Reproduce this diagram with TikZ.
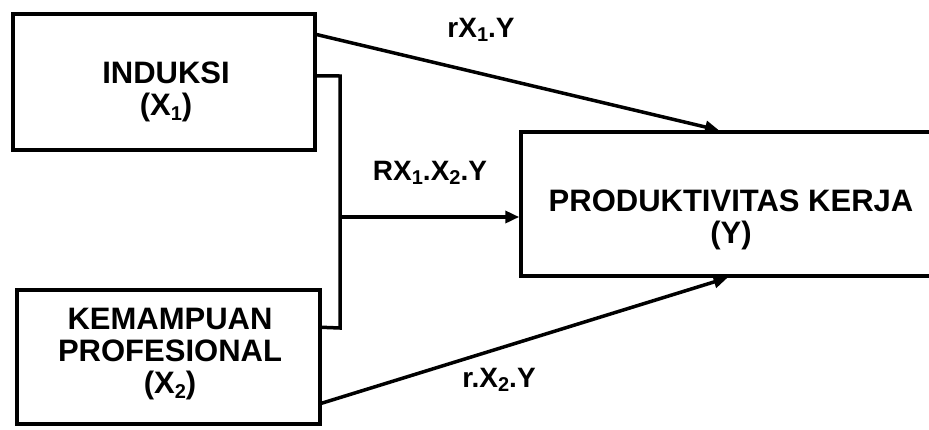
\documentclass[tikz,border=0pt]{standalone}
\usepackage{fontspec}
\setmainfont{Liberation Sans}
\usetikzlibrary{arrows.meta,calc}
\newcommand{\sbx}[1]{\raisebox{-0.28ex}{\fontsize{20}{20}\selectfont #1}}
\tikzset{
  boxnode/.style={draw, line width=3.5pt, rectangle, inner sep=0pt},
  boxtext/.style={font=\fontsize{31}{32}\selectfont\bfseries, align=center, inner sep=0pt},
  pathlabel/.style={font=\fontsize{28}{30}\selectfont\bfseries, inner sep=0pt},
  link/.style={line width=3.5pt},
  arrowlink/.style={line width=3.5pt, -{Triangle[length=14pt,width=12pt]}},
}
\begin{document}
\begin{tikzpicture}[x=1pt,y=-1pt]
\useasboundingbox (0,0) rectangle (929,429);
\clip (0,0) rectangle (929,429);

% boxes
\node[boxnode, minimum width=302pt, minimum height=136pt] (x1) at (164,82) {};
\node[boxnode, minimum width=303pt, minimum height=134pt] (x2) at (168.5,357) {};
\node[boxnode, minimum width=470pt, minimum height=144pt] (y) at (756,204) {};

% box texts
\node[boxtext] (x1t) at (166,92) {INDUKSI\\(X\sbx{1})};
\node[boxtext] (x2t) at (170,354) {KEMAMPUAN\\PROFESIONAL\\(X\sbx{2})};
\node[boxtext] (yt) at (731,220) {PRODUKTIVITAS KERJA\\(Y)};

% direct paths
\draw[arrowlink] ($(x1.north east)!0.16!(x1.south east)$) -- ($(y.north west)!0.422!(y.north east)$);
\draw[arrowlink] ($(x2.north east)!0.836!(x2.south east)$) -- ($(y.south west)!0.44!(y.south east)$);

% joint path
\coordinate (jt) at (340,76);
\coordinate (jb) at (340,328);
\coordinate (jn) at (340,217);
\draw[link] ($(x1.north east)!0.456!(x1.south east)$) -- (jt) -- (jb) -- ($(x2.north east)!0.284!(x2.south east)$);
\draw[arrowlink] (jn) -- (jn -| y.west);

% path labels
\node[pathlabel] (l1) at (481,30) {rX\sbx{1}.Y};
\node[pathlabel] (l12) at (430,173) {RX\sbx{1}.X\sbx{2}.Y};
\node[pathlabel] (l2) at (499,380) {r.X\sbx{2}.Y};
\end{tikzpicture}
\end{document}
